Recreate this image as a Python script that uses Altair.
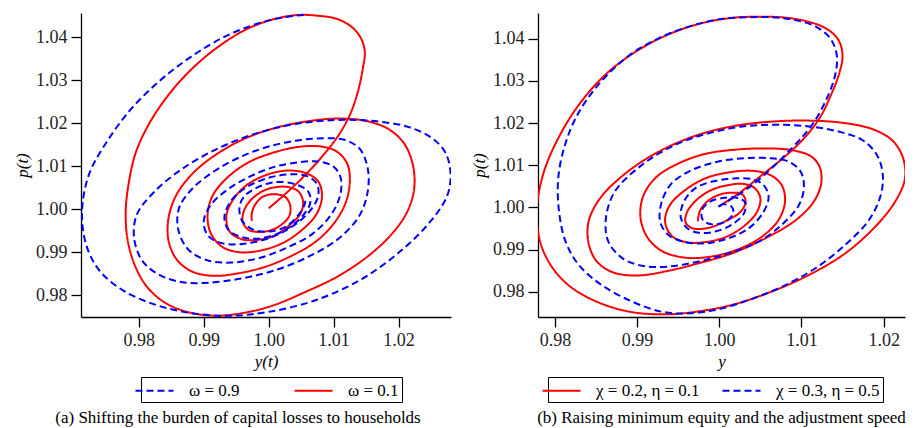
import altair as alt
import pandas as pd

# ---------------- Panel (a): omega ----------------
a_red_y = [1.0000, 1.0026, 1.0054, 1.0082, 1.0108, 1.0126, 1.0138, 1.0145, 1.0148, 1.0142,
           1.0128, 1.0105, 1.0077, 1.0046, 1.0010, 0.9969, 0.9928, 0.9887, 0.9849, 0.9818,
           0.9796, 0.9785, 0.9780, 0.9783, 0.9795, 0.9814, 0.9842, 0.9877, 0.9918, 0.9959,
           1.0005, 1.0056, 1.0108, 1.0154, 1.0190, 1.0213, 1.0224, 1.0222, 1.0209, 1.0185,
           1.0151, 1.0108, 1.0062, 1.0015, 0.9969, 0.9926, 0.9887, 0.9859, 0.9846, 0.9846,
           0.9859, 0.9882, 0.9915, 0.9954, 0.9995, 1.0036, 1.0072, 1.0100, 1.0118, 1.0125,
           1.0121, 1.0105, 1.0080, 1.0046, 1.0008, 0.9969, 0.9936, 0.9914, 0.9906, 0.9911,
           0.9928, 0.9954, 0.9985, 1.0020, 1.0050, 1.0073, 1.0082, 1.0077, 1.0059, 1.0031,
           0.9999, 0.9968, 0.9946, 0.9935, 0.9940, 0.9959, 0.9979, 1.0008, 1.0032, 1.0049,
           1.0053, 1.0046, 1.0032, 1.0015, 0.9995, 0.9975, 0.9963, 0.9960, 0.9969, 0.9995,
           1.0018, 1.0032, 1.0033, 1.0025, 1.0006, 0.9990, 0.9979, 0.9974, 0.9974]
a_red_p = [1.0002, 1.0036, 1.0076, 1.0122, 1.0173, 1.0223, 1.0277, 1.0328, 1.0367, 1.0398,
           1.0424, 1.0443, 1.0450, 1.0452, 1.0443, 1.0421, 1.0384, 1.0334, 1.0272, 1.0204,
           1.0134, 1.0064, 0.9994, 0.9928, 0.9866, 0.9817, 0.9781, 0.9760, 0.9752, 0.9758,
           0.9775, 0.9807, 0.9845, 0.9892, 0.9943, 0.9993, 1.0047, 1.0103, 1.0152, 1.0186,
           1.0205, 1.0211, 1.0205, 1.0191, 1.0168, 1.0134, 1.0089, 1.0036, 0.9980, 0.9926,
           0.9882, 0.9855, 0.9845, 0.9851, 0.9866, 0.9892, 0.9924, 0.9966, 1.0013, 1.0063,
           1.0106, 1.0134, 1.0146, 1.0145, 1.0132, 1.0109, 1.0073, 1.0032, 0.9987, 0.9944,
           0.9913, 0.9900, 0.9903, 0.9920, 0.9950, 0.9987, 1.0027, 1.0063, 1.0083, 1.0090,
           1.0081, 1.0058, 1.0024, 0.9985, 0.9948, 0.9930, 0.9928, 0.9938, 0.9963, 0.9990,
           1.0018, 1.0041, 1.0051, 1.0052, 1.0045, 1.0025, 1.0000, 0.9973, 0.9952, 0.9948,
           0.9962, 0.9985, 1.0010, 1.0029, 1.0035, 1.0028, 1.0010, 0.9990, 0.9973]

a_blue_y = [1.0054, 1.0021, 0.9979, 0.9928, 0.9877, 0.9831, 0.9787, 0.9751, 0.9725, 0.9714,
            0.9714, 0.9724, 0.9743, 0.9777, 0.9823, 0.9877, 0.9938, 1.0000, 1.0072, 1.0144,
            1.0205, 1.0251, 1.0275, 1.0280, 1.0272, 1.0251, 1.0216, 1.0169, 1.0123, 1.0077,
            1.0026, 0.9974, 0.9920, 0.9867, 0.9823, 0.9797, 0.9793, 0.9806, 0.9832, 0.9867,
            0.9908, 0.9959, 1.0010, 1.0062, 1.0108, 1.0139, 1.0152, 1.0153, 1.0141, 1.0118,
            1.0085, 1.0049, 1.0008, 0.9963, 0.9918, 0.9882, 0.9862, 0.9861, 0.9877, 0.9908,
            0.9944, 0.9985, 1.0026, 1.0067, 1.0096, 1.0110, 1.0111, 1.0100, 1.0077, 1.0046,
            1.0010, 0.9974, 0.9938, 0.9911, 0.9900, 0.9907, 0.9928, 0.9959, 0.9995, 1.0028,
            1.0059, 1.0076, 1.0074, 1.0057, 1.0031, 1.0000, 0.9967, 0.9943, 0.9932, 0.9938,
            0.9959, 0.9987, 1.0021, 1.0049, 1.0064, 1.0061, 1.0041, 1.0010, 0.9982, 0.9962,
            0.9955, 0.9960, 0.9977, 1.0000, 1.0026, 1.0046, 1.0056, 1.0056]
a_blue_p = [1.0452, 1.0446, 1.0430, 1.0398, 1.0351, 1.0297, 1.0231, 1.0157, 1.0087, 1.0018,
            0.9955, 0.9897, 0.9851, 0.9810, 0.9779, 0.9759, 0.9752, 0.9761, 0.9788, 0.9838,
            0.9905, 0.9975, 1.0032, 1.0083, 1.0132, 1.0166, 1.0191, 1.0204, 1.0208, 1.0205,
            1.0194, 1.0173, 1.0140, 1.0094, 1.0039, 0.9987, 0.9932, 0.9879, 0.9847, 0.9830,
            0.9829, 0.9839, 0.9858, 0.9890, 0.9932, 0.9983, 1.0037, 1.0091, 1.0139, 1.0161,
            1.0165, 1.0161, 1.0149, 1.0126, 1.0090, 1.0047, 1.0002, 0.9952, 0.9905, 0.9880,
            0.9876, 0.9886, 0.9909, 0.9942, 0.9987, 1.0032, 1.0072, 1.0099, 1.0111, 1.0109,
            1.0099, 1.0078, 1.0047, 1.0010, 0.9971, 0.9938, 0.9921, 0.9919, 0.9930, 0.9952,
            0.9988, 1.0029, 1.0060, 1.0078, 1.0081, 1.0073, 1.0052, 1.0021, 0.9983, 0.9952,
            0.9935, 0.9932, 0.9948, 0.9979, 1.0014, 1.0041, 1.0058, 1.0063, 1.0050, 1.0029,
            1.0002, 0.9971, 0.9952, 0.9948, 0.9959, 0.9987, 1.0014, 1.0027]

# ---------------- Panel (b): chi / eta ----------------
b_red_y = [0.9999, 1.0024, 1.0052, 1.0080, 1.0105, 1.0123, 1.0136, 1.0146, 1.0150, 1.0145,
           1.0131, 1.0109, 1.0080, 1.0052, 1.0019, 0.9979, 0.9938, 0.9898, 0.9861, 0.9829,
           0.9804, 0.9786, 0.9778, 0.9782, 0.9796, 0.9819, 0.9853, 0.9894, 0.9938, 0.9979,
           1.0019, 1.0064, 1.0109, 1.0153, 1.0190, 1.0214, 1.0226, 1.0223, 1.0210, 1.0186,
           1.0149, 1.0105, 1.0060, 1.0015, 0.9971, 0.9926, 0.9886, 0.9855, 0.9841, 0.9841,
           0.9851, 0.9871, 0.9902, 0.9938, 0.9975, 1.0015, 1.0056, 1.0093, 1.0115, 1.0124,
           1.0122, 1.0111, 1.0088, 1.0056, 1.0019, 0.9983, 0.9951, 0.9924, 0.9908, 0.9904,
           0.9912, 0.9930, 0.9959, 0.9991, 1.0024, 1.0052, 1.0072, 1.0080, 1.0076, 1.0062,
           1.0040, 1.0011, 0.9983, 0.9959, 0.9940, 0.9934, 0.9942, 0.9959, 0.9983, 1.0009,
           1.0032, 1.0046, 1.0050, 1.0043, 1.0029, 1.0011, 0.9991, 0.9973, 0.9961, 0.9959,
           0.9967, 0.9985, 1.0007, 1.0026, 1.0032, 1.0028, 1.0013, 0.9997, 0.9983, 0.9976,
           0.9974]
b_red_p = [1.0002, 1.0034, 1.0077, 1.0121, 1.0168, 1.0215, 1.0267, 1.0318, 1.0361, 1.0397,
           1.0423, 1.0440, 1.0450, 1.0452, 1.0450, 1.0437, 1.0410, 1.0369, 1.0314, 1.0243,
           1.0164, 1.0081, 0.9994, 0.9919, 0.9860, 0.9812, 0.9775, 0.9752, 0.9747, 0.9755,
           0.9771, 0.9801, 0.9840, 0.9891, 0.9955, 1.0014, 1.0069, 1.0121, 1.0160, 1.0186,
           1.0201, 1.0206, 1.0203, 1.0192, 1.0170, 1.0132, 1.0081, 1.0022, 0.9967, 0.9915,
           0.9872, 0.9846, 0.9839, 0.9850, 0.9868, 0.9891, 0.9927, 0.9970, 1.0014, 1.0057,
           1.0097, 1.0122, 1.0136, 1.0140, 1.0137, 1.0127, 1.0105, 1.0073, 1.0030, 0.9978,
           0.9931, 0.9897, 0.9881, 0.9884, 0.9902, 0.9931, 0.9970, 1.0014, 1.0053, 1.0077,
           1.0087, 1.0083, 1.0069, 1.0042, 1.0006, 0.9967, 0.9933, 0.9918, 0.9918, 0.9931,
           0.9959, 0.9990, 1.0022, 1.0046, 1.0056, 1.0053, 1.0042, 1.0019, 0.9990, 0.9965,
           0.9951, 0.9951, 0.9967, 0.9990, 1.0014, 1.0031, 1.0035, 1.0028, 1.0010, 0.9990,
           0.9967]

b_blue_y = [0.9999, 1.0040, 1.0088, 1.0113, 1.0131, 1.0141, 1.0143, 1.0135, 1.0117, 1.0093,
            1.0064, 1.0036, 1.0003, 0.9967, 0.9926, 0.9886, 0.9849, 0.9825, 0.9811, 0.9804,
            0.9805, 0.9813, 0.9829, 0.9857, 0.9894, 0.9930, 0.9959, 0.9995, 1.0036, 1.0076,
            1.0117, 1.0153, 1.0182, 1.0196, 1.0199, 1.0192, 1.0174, 1.0145, 1.0109, 1.0068,
            1.0028, 0.9987, 0.9946, 0.9906, 0.9873, 0.9862, 0.9865, 0.9882, 0.9906, 0.9938,
            0.9975, 1.0011, 1.0048, 1.0076, 1.0097, 1.0103, 1.0099, 1.0084, 1.0060, 1.0032,
            0.9999, 0.9967, 0.9942, 0.9930, 0.9928, 0.9938, 0.9959, 0.9983, 1.0011, 1.0036,
            1.0054, 1.0060, 1.0054, 1.0040, 1.0019, 0.9995, 0.9971, 0.9957, 0.9953, 0.9961,
            0.9975, 0.9995, 1.0015, 1.0030, 1.0032, 1.0024, 1.0007, 0.9989, 0.9979, 0.9980,
            0.9991, 1.0007, 1.0017, 1.0015, 1.0005]
b_blue_p = [1.0002, 1.0053, 1.0140, 1.0196, 1.0259, 1.0314, 1.0361, 1.0401, 1.0429, 1.0444,
            1.0451, 1.0451, 1.0447, 1.0431, 1.0401, 1.0354, 1.0282, 1.0211, 1.0140, 1.0069,
            0.9990, 0.9919, 0.9864, 0.9816, 0.9777, 0.9753, 0.9749, 0.9757, 0.9781, 0.9812,
            0.9856, 0.9911, 0.9970, 1.0026, 1.0077, 1.0124, 1.0160, 1.0180, 1.0192, 1.0196,
            1.0192, 1.0176, 1.0148, 1.0101, 1.0038, 0.9974, 0.9919, 0.9880, 0.9862, 0.9860,
            0.9872, 0.9891, 0.9919, 0.9959, 1.0006, 1.0049, 1.0085, 1.0109, 1.0117, 1.0117,
            1.0109, 1.0089, 1.0057, 1.0014, 0.9967, 0.9935, 0.9918, 0.9915, 0.9927, 0.9951,
            0.9990, 1.0026, 1.0053, 1.0067, 1.0069, 1.0063, 1.0046, 1.0014, 0.9978, 0.9951,
            0.9940, 0.9943, 0.9959, 0.9986, 1.0010, 1.0022, 1.0023, 1.0014, 0.9994, 0.9970,
            0.9960, 0.9966, 0.9986, 1.0002, 1.0008]

x_ticks = [0.98, 0.99, 1.00, 1.01, 1.02]
p_ticks = [0.98, 0.99, 1.00, 1.01, 1.02, 1.03, 1.04]

a_labels = ["ω = 0.9", "ω = 0.1"]
b_labels = ["χ = 0.2, η = 0.1", "χ = 0.3, η = 0.5"]

FONT = "Liberation Serif"
RED = "#ff0000"
BLUE = "#0000ff"
DASH = [7, 4]
SOLID = [1, 0]


def frame(xs, ps, label):
    return pd.DataFrame({"y": xs, "p": ps, "i": list(range(len(xs))), "s": label})


def axis(title, values):
    return alt.Axis(values=values, format=".2f", title=title, labelFont=FONT,
                    labelFontSize=18, labelColor="#222222", labelPadding=4,
                    titleFont=FONT, titleFontSize=17, titleFontWeight="normal",
                    titleFontStyle="italic", titleColor="black", titlePadding=4,
                    domainColor="black", domainWidth=1.3, tickColor="black",
                    tickWidth=1.3, tickSize=10, grid=False)


def panel(red_df, blue_df, order, colors, dashes, xdom, ydom, w, h, xtitle,
          legx, legy, colpad, caption, dx):
    data = pd.concat([red_df, blue_df], ignore_index=True)
    leg = alt.Legend(orient="none", legendX=legx, legendY=legy, direction="horizontal",
                     title=None, strokeColor="black", padding=3,
                     symbolType="M-2,0H2", symbolSize=361, symbolStrokeWidth=2,
                     symbolFillColor="transparent",
                     labelFont=FONT, labelFontSize=17, labelColor="black",
                     columnPadding=colpad, labelOffset=24, fillColor="white")
    enc = dict(
        x=alt.X("y:Q", scale=alt.Scale(domain=xdom, nice=False, zero=False),
                axis=axis(xtitle, x_ticks)),
        y=alt.Y("p:Q", scale=alt.Scale(domain=ydom, nice=False, zero=False),
                axis=axis("p(t)", p_ticks)),
        color=alt.Color("s:N", scale=alt.Scale(domain=order, range=colors), legend=leg),
        strokeDash=alt.StrokeDash("s:N", scale=alt.Scale(domain=order, range=dashes), legend=leg),
        order=alt.Order("i:Q"),
    )
    base = alt.Chart(data).mark_line(interpolate="catmull-rom", strokeWidth=2, clip=True)
    red_layer = base.encode(**enc).transform_filter(alt.datum.s == red_df["s"].iloc[0])
    blue_layer = base.encode(**enc).transform_filter(alt.datum.s == blue_df["s"].iloc[0])
    return alt.layer(red_layer, blue_layer).properties(
        width=w, height=h,
        title=alt.TitleParams(text=caption, orient="bottom", anchor="middle", frame="group",
                              dx=dx, offset=7, font=FONT, fontSize=17,
                              fontWeight="normal", color="black"))


pa = panel(frame(a_red_y, a_red_p, a_labels[1]), frame(a_blue_y, a_blue_p, a_labels[0]),
           a_labels, [BLUE, RED], [DASH, SOLID],
           [0.97112, 1.02807], [0.97491, 1.04566], 370, 304, "y(t)",
           60, 364, 50, "(a) Shifting the burden of capital losses to households", -28)

pb = panel(frame(b_red_y, b_red_p, b_labels[0]), frame(b_blue_y, b_blue_p, b_labels[1]),
           b_labels, [RED, BLUE], [SOLID, DASH],
           [0.97794, 1.02260], [0.97405, 1.04609], 367, 304, "y",
           10, 364, 18, "(b) Raising minimum equity and the adjustment speed", 0)

chart = alt.hconcat(pa, pb, spacing=19).resolve_scale(
    color="independent", strokeDash="independent"
).resolve_legend(color="independent", strokeDash="independent").configure_view(stroke=None)

chart.save("out.html", embed_options={"renderer": "svg", "actions": False})
